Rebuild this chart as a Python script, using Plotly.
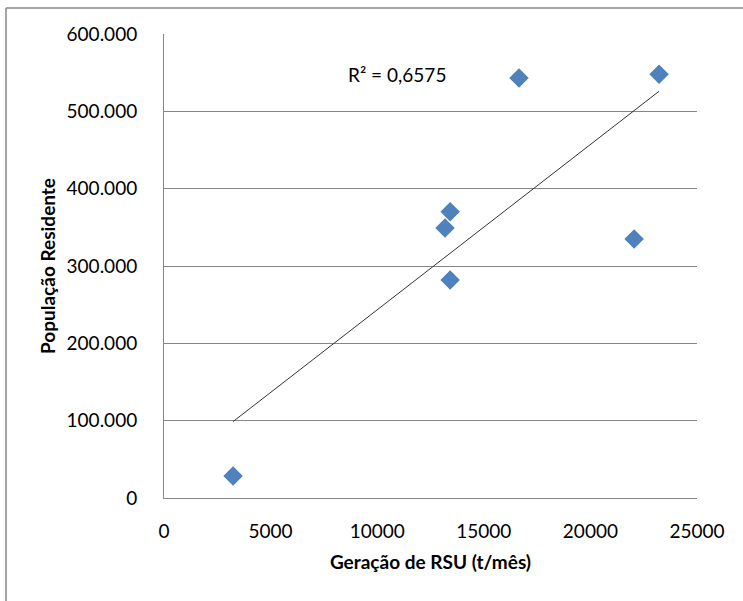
import numpy as np
import plotly.graph_objects as go

# Geração de RSU (t/mês) x População Residente
geracao_rsu = [3240, 13180, 13420, 13420, 16650, 22050, 23220]
populacao = [28500, 349000, 370000, 282000, 543000, 335000, 548000]

x_ticks = [0, 5000, 10000, 15000, 20000, 25000]
y_ticks = [0, 100000, 200000, 300000, 400000, 500000, 600000]

W, H = 743, 601
L, R, T, B = 164, 46, 34, 103

# tendência linear (mínimos quadrados)
a, b = np.polyfit(geracao_rsu, populacao, 1)
xt = np.array([min(geracao_rsu), max(geracao_rsu)])
yt = a * xt + b

fig = go.Figure()
fig.add_trace(go.Scatter(x=geracao_rsu, y=populacao, mode="markers",
                         marker=dict(symbol="diamond", size=15, color="#4F81BD"),
                         showlegend=False))
fig.add_trace(go.Scatter(x=xt, y=yt, mode="lines",
                         line=dict(color="#333333", width=1), showlegend=False))

fig.add_annotation(x=10950, y=548000, xref="x", yref="y", text="R² = 0,6575",
                   showarrow=False, font=dict(size=19, color="#000000"))

# moldura da área do gráfico (só aparecem o topo e a esquerda)
pw, ph = W - L - R, H - T - B
x0 = (6 - L) / pw
y1 = (H - B - 8) / ph
fig.add_shape(type="line", xref="paper", yref="paper", x0=x0, x1=(W - L) / pw, y0=y1, y1=y1,
              line=dict(color="#868686", width=1.5))
fig.add_shape(type="line", xref="paper", yref="paper", x0=x0, x1=x0, y0=y1, y1=-(B + 5) / ph,
              line=dict(color="#868686", width=1.5))

fig.update_layout(
    width=W, height=H,
    margin=dict(l=L, r=R, t=T, b=B),
    paper_bgcolor="white", plot_bgcolor="white",
    separators=",.",
    font=dict(family="Lato", size=19, color="#000000"),
    xaxis=dict(range=[0, 25000], tickvals=x_ticks, tickformat="d",
               showgrid=False, zeroline=False, showline=True, linecolor="#868686",
               linewidth=1, ticklabelstandoff=16,
               title=dict(text="<b>Geração de RSU (t/mês)</b>", standoff=14,
                          font=dict(size=19))),
    yaxis=dict(range=[0, 600000], tickvals=y_ticks, tickformat=",d",
               showgrid=True, gridcolor="#868686", gridwidth=1, zeroline=False,
               showline=True, linecolor="#868686", linewidth=1, ticklabelstandoff=22,
               title=dict(text="<b>População Residente</b>", standoff=5,
                          font=dict(size=19))),
)

fig.write_html("out.html", config={"displayModeBar": False},
               post_script="document.body.style.margin='0';")
